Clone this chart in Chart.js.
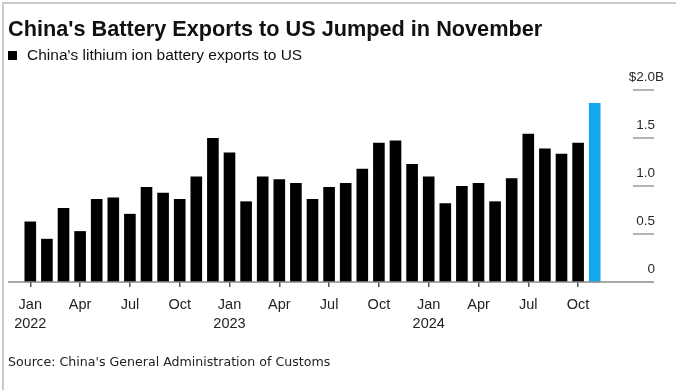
<!DOCTYPE html>
<html lang="en">
<head>
  <meta charset="UTF-8">
  <title>China's Battery Exports to US</title>
  <script src="https://cdn.jsdelivr.net/npm/chart.js@4.4.1/dist/chart.umd.min.js"></script>
  <style>
    html, body { margin: 0; padding: 0; background: #fff; }
    body { width: 676px; height: 390px; position: relative; overflow: hidden; font-family: "Liberation Sans", Arial, sans-serif; color: #111; }
    #frame { position: absolute; left: 2px; top: 2px; width: 700px; height: 400px; border-left: 2px solid #c9c9c9; border-top: 2px solid #c9c9c9; }
    #chart { position: absolute; left: 0; top: 0; }
    .title { position: absolute; left: 8px; top: 16px; font-size: 21.7px; font-weight: bold; white-space: nowrap; }
    .legend { position: absolute; left: 8px; top: 46px; font-size: 15.5px; white-space: nowrap; }
    .legend span { display: inline-block; width: 9px; height: 9px; background: #000; margin-right: 10px; }
    .source { position: absolute; left: 8px; top: 354px; font-size: 12.6px; color: #222; white-space: nowrap; font-family: "DejaVu Sans", sans-serif; }
  </style>
</head>
<body>
  <canvas id="chart" width="676" height="390"></canvas>
  <div class="title">China's Battery Exports to US Jumped in November</div>
  <div class="legend"><span></span>China's lithium ion battery exports to US</div>
  <div class="source">Source: China's General Administration of Customs</div>
  <div id="frame"></div>

  <script>
    // months Jan 2022 .. Nov 2024
    const months = [
      '2022-01', '2022-02', '2022-03', '2022-04', '2022-05', '2022-06',
      '2022-07', '2022-08', '2022-09', '2022-10', '2022-11', '2022-12',
      '2023-01', '2023-02', '2023-03', '2023-04', '2023-05', '2023-06',
      '2023-07', '2023-08', '2023-09', '2023-10', '2023-11', '2023-12',
      '2024-01', '2024-02', '2024-03', '2024-04', '2024-05', '2024-06',
      '2024-07', '2024-08', '2024-09', '2024-10', '2024-11'
    ];
    // exports, $ billions
    const exportsBn = [
      0.63, 0.45, 0.77, 0.53, 0.865, 0.88, 0.71, 0.99, 0.93, 0.865, 1.10, 1.50,
      1.35, 0.84, 1.10, 1.07, 1.03, 0.865, 0.99, 1.03, 1.18, 1.45, 1.475, 1.23,
      1.10, 0.82, 1.00, 1.03, 0.84, 1.08, 1.545, 1.39, 1.335, 1.45, 1.865
    ];
    const monthNames = ['Jan', 'Feb', 'Mar', 'Apr', 'May', 'Jun', 'Jul', 'Aug', 'Sep', 'Oct', 'Nov', 'Dec'];
    const quarterMonths = ['Jan', 'Apr', 'Jul', 'Oct'];
    const yTicks = [0, 0.5, 1.0, 1.5, 2.0];

    const monthOf = (s) => monthNames[parseInt(s.slice(5), 10) - 1];
    const isQuarter = (i) => quarterMonths.includes(monthOf(months[i]));

    const barColors = months.map((m, i) => i === months.length - 1 ? '#12a7ef' : '#000');

    // baseline + right-hand value labels
    const axisDecor = {
      id: 'axisDecor',
      afterDatasetsDraw(chart) {
        const { ctx, chartArea, scales } = chart;
        const y = scales.y;
        ctx.save();
        ctx.strokeStyle = '#8a8a8a';
        ctx.lineWidth = 1.5;
        ctx.beginPath();
        ctx.moveTo(8, chartArea.bottom);
        ctx.lineTo(654, chartArea.bottom);
        ctx.stroke();

        ctx.font = '13.5px "Liberation Sans", Arial, sans-serif';
        ctx.fillStyle = '#2a2a2a';
        ctx.textBaseline = 'middle';
        yTicks.forEach((v) => {
          const py = y.getPixelForValue(v);
          if (v > 0) {
            ctx.strokeStyle = '#9a9a9a';
            ctx.beginPath();
            ctx.moveTo(633, py);
            ctx.lineTo(654, py);
            ctx.stroke();
          }
          const txt = v === 0 ? '0' : v.toFixed(1);
          const ty = py - 12.5;
          ctx.textAlign = 'right';
          ctx.fillText(txt, 655, ty);
          if (v === yTicks[yTicks.length - 1]) {
            const w = ctx.measureText(txt).width;
            ctx.fillText('$', 655 - w, ty);
            ctx.textAlign = 'left';
            ctx.fillText('B', 655, ty);
          }
        });
        ctx.restore();
      }
    };

    new Chart(document.getElementById('chart'), {
      type: 'bar',
      data: {
        labels: months,
        datasets: [{
          data: exportsBn,
          backgroundColor: barColors,
          barPercentage: 0.7,
          categoryPercentage: 1.0
        }]
      },
      options: {
        responsive: false,
        animation: false,
        layout: { padding: { left: 22, right: 73, top: 90, bottom: 0 } },
        plugins: { legend: { display: false }, title: { display: false }, tooltip: { enabled: false } },
        scales: {
          x: {
            offset: true,
            border: { display: false },
            grid: {
              offset: false,
              drawOnChartArea: false,
              tickLength: 5,
              lineWidth: 1.5,
              color: (c) => isQuarter(c.index) ? '#555' : 'rgba(0,0,0,0)',
              tickColor: (c) => isQuarter(c.index) ? '#555' : 'rgba(0,0,0,0)'
            },
            ticks: {
              autoSkip: false,
              maxRotation: 0,
              padding: 9,
              color: '#222',
              font: { family: '"Liberation Sans", Arial, sans-serif', size: 14.5, lineHeight: 1.3 },
              callback: (val, i) => {
                if (!isQuarter(i)) return '';
                const m = monthOf(months[i]);
                return m === 'Jan' ? [m, months[i].slice(0, 4)] : m;
              }
            },
            afterFit: (scale) => {
              scale.height = 108;
              scale.paddingLeft = 0;
              scale.paddingRight = 0;
            }
          },
          y: {
            display: false,
            min: 0,
            max: 2.0
          }
        }
      },
      plugins: [axisDecor]
    });
  </script>
</body>
</html>
